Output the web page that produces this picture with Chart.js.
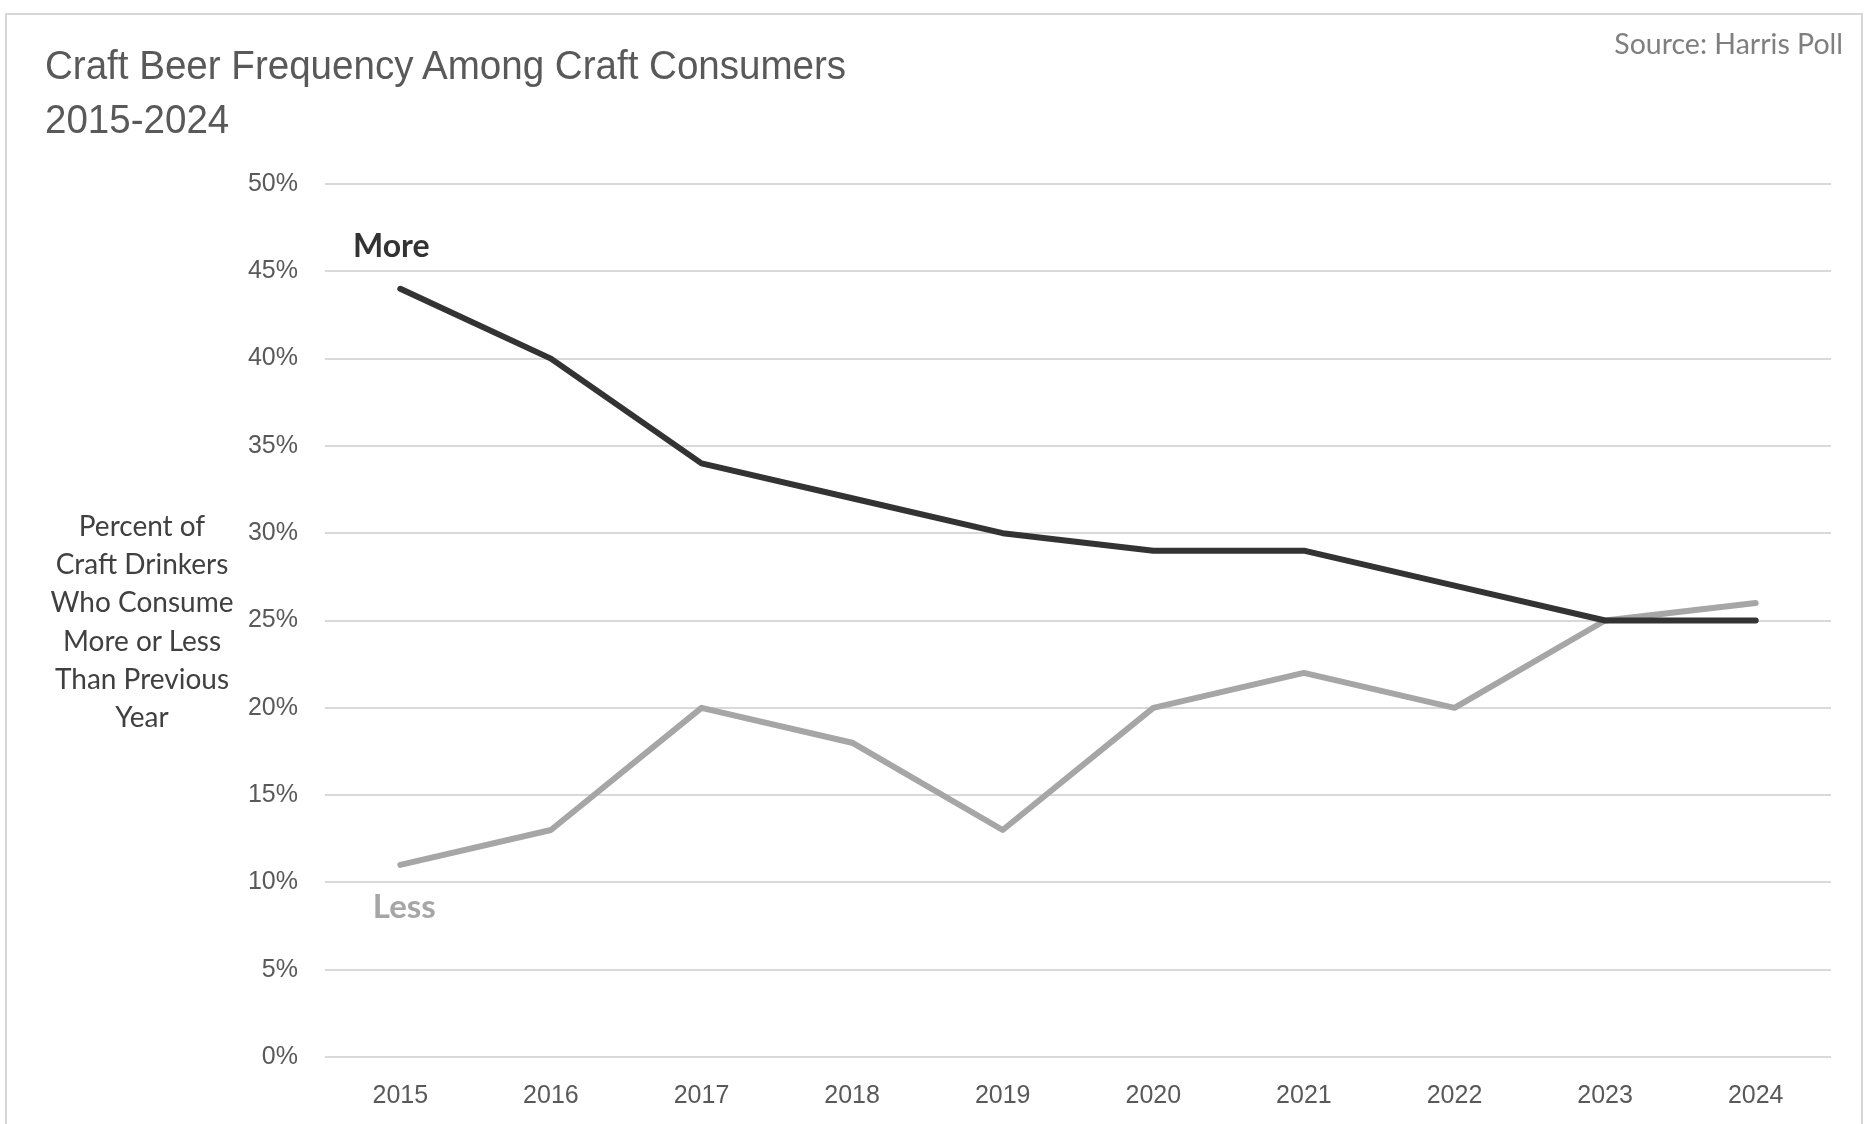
<!DOCTYPE html>
<html>
<head>
<meta charset="utf-8">
<script src="https://cdn.jsdelivr.net/npm/chart.js@4/dist/chart.umd.min.js"></script>
<style>
    html, body { margin: 0; padding: 0; background: #ffffff; }
    body { width: 1871px; height: 1124px; position: relative; overflow: hidden; }
    .frame {
        position: absolute; left: 5px; top: 13px; width: 1858px; height: 1140px;
        border: 2px solid #d6d6d6; box-sizing: border-box;
    }
    .chart-box { position: absolute; left: 0; top: 0; width: 1871px; height: 1124px; }
    .title {
        position: absolute; left: 45px; top: 38px;
        font-family: 'Liberation Sans', sans-serif;
        font-size: 41px; line-height: 54px; color: #595959;
        transform: scaleX(0.94); transform-origin: left top;
        white-space: nowrap;
    }
    .source {
        position: absolute; right: 28px; top: 26px;
        font-family: Lato, 'Noto Sans', sans-serif;
        font-size: 28.5px; color: #7f7f7f;
    }
    .y-title {
        position: absolute; left: 32px; top: 506px; width: 220px; text-align: center;
        font-family: Lato, 'Noto Sans', sans-serif;
        font-size: 28px; line-height: 38.2px; color: #404040;
    }
</style>
</head>
<body>
<div class="frame"></div>
<div class="chart-box"><canvas id="beerChart" width="1871" height="1124"></canvas></div>
<div class="title">Craft Beer Frequency Among Craft Consumers<br>2015-2024</div>
<div class="source">Source: Harris Poll</div>
<div class="y-title">Percent of<br>Craft Drinkers<br>Who Consume<br>More or Less<br>Than Previous<br>Year</div>
<script>
    // Chart data
    const years = ['2015', '2016', '2017', '2018', '2019', '2020', '2021', '2022', '2023', '2024'];
    const moreValues = [44, 40, 34, 32, 30, 29, 29, 27, 25, 25];
    const lessValues = [11, 13, 20, 18, 13, 20, 22, 20, 25, 26];
    const seriesNames = ['More', 'Less'];
    const yTicks = [0, 5, 10, 15, 20, 25, 30, 35, 40, 45, 50];

    const DARK = '#333333';
    const LIGHT = '#a6a6a6';

    // Draws the series name next to the first point of each line
    const seriesLabelPlugin = {
        id: 'seriesLabels',
        afterDatasetsDraw(chart) {
            const ctx = chart.ctx;
            chart.data.datasets.forEach((ds, i) => {
                const meta = chart.getDatasetMeta(i);
                const pt = meta.data[0];
                if (!pt) return;
                const o = ds.labelOffset;
                ctx.save();
                ctx.font = o.font;
                ctx.fillStyle = o.color;
                ctx.textAlign = 'center';
                ctx.textBaseline = 'middle';
                ctx.fillText(ds.label, pt.x + o.dx, pt.y + o.dy);
                ctx.restore();
            });
        }
    };

    const ctx = document.getElementById('beerChart');
    new Chart(ctx, {
        type: 'line',
        data: {
            labels: years,
            datasets: [
                {
                    label: seriesNames[0],
                    data: moreValues,
                    borderColor: DARK,
                    borderWidth: 6,
                    borderCapStyle: 'round',
                    borderJoinStyle: 'round',
                    pointRadius: 0,
                    tension: 0,
                    labelOffset: { dx: -9, dy: -42, font: 'bold 32px Lato, "Noto Sans", sans-serif', color: DARK }
                },
                {
                    label: seriesNames[1],
                    data: lessValues,
                    borderColor: LIGHT,
                    borderWidth: 6,
                    borderCapStyle: 'round',
                    borderJoinStyle: 'round',
                    pointRadius: 0,
                    tension: 0,
                    labelOffset: { dx: 4, dy: 42, font: 'bold 33px Lato, "Noto Sans", sans-serif', color: LIGHT }
                }
            ]
        },
        options: {
            responsive: false,
            animation: false,
            events: [],
            layout: { padding: { top: 184, right: 40, bottom: 0, left: 0 } },
            plugins: {
                legend: { display: false },
                tooltip: { enabled: false }
            },
            scales: {
                x: {
                    offset: true,
                    grid: { display: false, drawTicks: false },
                    border: { display: false },
                    ticks: {
                        padding: 24,
                        color: '#595959',
                        font: { family: '"Liberation Sans", Arial, sans-serif', size: 25 }
                    },
                    afterFit(scale) { scale.height = 67; }
                },
                y: {
                    min: 0,
                    max: 50,
                    afterBuildTicks(scale) { scale.ticks = yTicks.map(v => ({ value: v })); },
                    grid: { color: '#d9d9d9', lineWidth: 2, drawTicks: false },
                    border: { display: false },
                    ticks: {
                        padding: 27,
                        color: '#595959',
                        font: { family: '"Liberation Sans", Arial, sans-serif', size: 25 },
                        callback: v => v + '%'
                    },
                    afterFit(scale) { scale.width = 325; }
                }
            }
        },
        plugins: [seriesLabelPlugin]
    });
</script>
</body>
</html>
